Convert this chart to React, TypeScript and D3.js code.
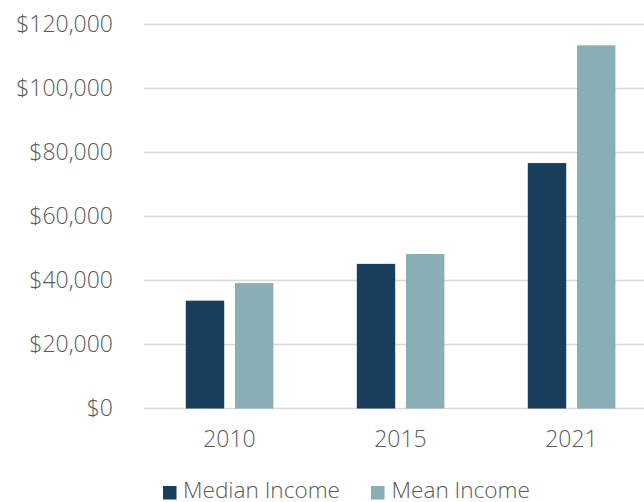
import React from "react";
import * as d3 from "d3";

const categories = ["2010", "2015", "2021"];
const seriesNames = ["Median Income", "Mean Income"];
const medianIncome = [33700, 45200, 76700];
const meanIncome = [39200, 48300, 113500];
const yTicks = [0, 20000, 40000, 60000, 80000, 100000, 120000];

const colors = ["#183d5d", "#89aeb5"];
const W = 644;
const H = 502;
const font = "'Open Sans', 'Noto Sans', sans-serif";
const textColor = "#595959";

export default function App() {
  const x = d3.scaleBand<string>().domain(categories).range([144, 657]).paddingInner(0).paddingOuter(0);
  const y = d3.scaleLinear().domain([0, 120000]).range([408.5, 24.5]);
  const fmt = (v: number) => "$" + d3.format(",")(v);
  const series = [medianIncome, meanIncome];
  const barW = 38.4;
  const offsets = [-43.7, 5.5];

  return (
    <svg width={W} height={H} style={{ position: "absolute", left: 0, top: 0, background: "#fff" }}>
      <rect x={0} y={0} width={W} height={H} fill="#fff" />
      {yTicks.map((t) => (
        <g key={t}>
          <line x1={144} x2={W} y1={y(t)} y2={y(t)} stroke="#d9d9d9" strokeWidth={1.5} />
          <text x={113} y={y(t)} dy="0.33em" textAnchor="end" fontFamily={font} fontSize={23} fontWeight={300} fill={textColor}>
            {fmt(t)}
          </text>
        </g>
      ))}
      {categories.map((c, i) => {
        const cx = (x(c) as number) + x.bandwidth() / 2;
        return (
          <g key={c}>
            {series.map((s, j) => (
              <rect
                key={j}
                x={cx + offsets[j]}
                y={y(s[i])}
                width={barW}
                height={y(0) - y(s[i])}
                fill={colors[j]}
              />
            ))}
            <text x={cx} y={447} textAnchor="middle" fontFamily={font} fontSize={23} fontWeight={300} fill={textColor}>
              {c}
            </text>
          </g>
        );
      })}
      <g>
        <rect x={163} y={486} width={13.5} height={13.5} fill={colors[0]} />
        <text x={183} y={498} fontFamily={font} fontSize={22.6} fontWeight={300} fill={textColor}>{seriesNames[0]}</text>
        <rect x={371} y={486} width={13.5} height={13.5} fill={colors[1]} />
        <text x={391.5} y={498} fontFamily={font} fontSize={22.6} fontWeight={300} fill={textColor}>{seriesNames[1]}</text>
      </g>
    </svg>
  );
}
